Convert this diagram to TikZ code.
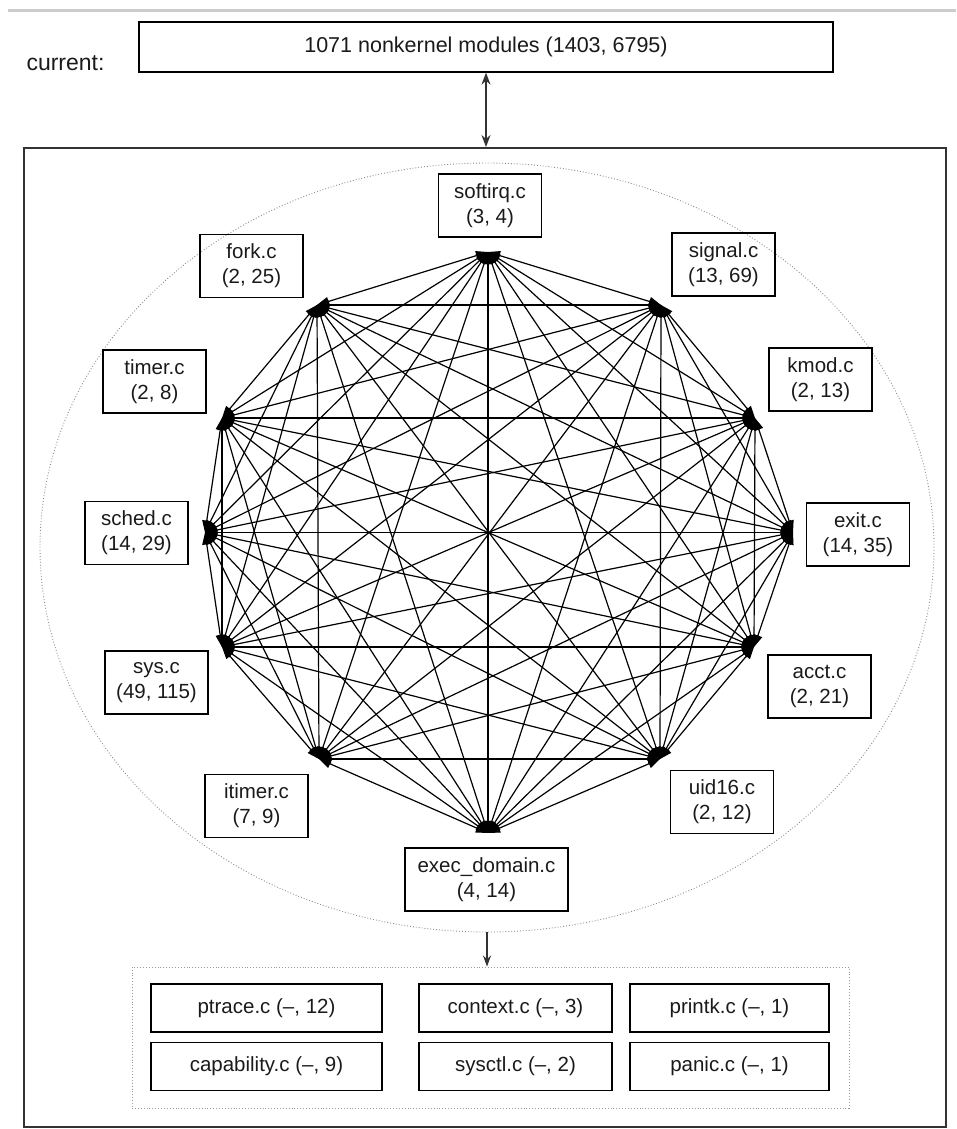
\documentclass[tikz,border=0pt]{standalone}
\usepackage{fontspec}
\setmainfont{Liberation Sans}
\usetikzlibrary{arrows.meta,shapes.geometric}
\definecolor{txt}{HTML}{1A1A1A}
\definecolor{frame}{HTML}{333333}
\begin{document}
\begin{tikzpicture}[x=1pt,y=-1pt,
  lbl/.style={draw=black, line width=1.3pt, minimum width=103pt, minimum height=63pt,
    align=center, inner sep=0pt, text=txt, font=\fontsize{20.5}{25}\selectfont},
  modbox/.style={draw=black, line width=1.3pt, minimum height=48pt, inner sep=0pt,
    text=txt, font=\fontsize{20.5}{25}\selectfont},
  kedge/.style={line width=1.2pt, black,
    {Triangle[length=12pt,width=9pt]}-{Triangle[length=12pt,width=9pt]}},
  conn/.style={line width=1.3pt, frame, -{Stealth[length=11pt,width=8pt]}}
]
\useasboundingbox (0,0) rectangle (956,1129);
% top rule
\draw[line width=3pt, black!20] (8,11) -- (956,11);

% top box and label
\node[anchor=base west, text=txt, font=\fontsize{23}{27}\selectfont] (cur) at (23,71) {current:};
\node[draw=black, line width=1.3pt, minimum width=694pt, minimum height=50pt, inner sep=0pt,
  text=txt, font=\fontsize{21.5}{26}\selectfont] (top) at (486,47) {1071 nonkernel modules (1403, 6795)};

% outer frame
\node[draw=frame, line width=2pt, minimum width=922pt, minimum height=979pt, inner sep=0pt] (outer) at (485,637.5) {};
\draw[line width=1.3pt, frame, {Stealth[length=12pt,width=9pt]}-{Stealth[length=12pt,width=9pt]}]
  (top.south) -- (top.south |- outer.north);

% dotted ellipse
\node[ellipse, draw=black!45, dotted, line width=0.9pt, minimum width=894pt, minimum height=769pt, inner sep=0pt] (cloud) at (487,547.5) {};

% graph vertices
\coordinate (v0) at (488,252);
\coordinate (v1) at (661,305);
\coordinate (v2) at (755,418);
\coordinate (v3) at (793,532.5);
\coordinate (v4) at (754,647);
\coordinate (v5) at (660,759);
\coordinate (v6) at (488,833);
\coordinate (v7) at (319,759);
\coordinate (v8) at (222,647);
\coordinate (v9) at (205,532.5);
\coordinate (v10) at (222,418);
\coordinate (v11) at (317,305);

\foreach \i in {0,...,10}{
  \pgfmathtruncatemacro\s{\i+1}
  \foreach \j in {\s,...,11}{
    \draw[kedge] (v\i) -- (v\j);
  }
}

% vertex labels
\node[lbl] (softirq) at (490,205.5) {softirq.c\\(3, 4)};
\node[lbl] (signal) at (723.5,264.5) {signal.c\\(13, 69)};
\node[lbl] (kmod) at (820.5,379.5) {kmod.c\\(2, 13)};
\node[lbl] (exit) at (858,534.5) {exit.c\\(14, 35)};
\node[lbl] (acct) at (819.5,686.5) {acct.c\\(2, 21)};
\node[lbl] (uid16) at (722,802) {uid16.c\\(2, 12)};
\node[lbl, minimum width=163pt] (exec) at (486.5,879.5) {exec\_domain.c\\(4, 14)};
\node[lbl] (itimer) at (256.5,806) {itimer.c\\(7, 9)};
\node[lbl] (sys) at (156.5,682.5) {sys.c\\(49, 115)};
\node[lbl] (sched) at (136.5,533) {sched.c\\(14, 29)};
\node[lbl] (timer) at (154.5,381.5) {timer.c\\(2, 8)};
\node[lbl] (fork) at (251.5,266) {fork.c\\(2, 25)};

% library box
\node[draw=black!40, dotted, line width=0.9pt, minimum width=717pt, minimum height=141pt, inner sep=0pt] (lib) at (490.5,1037.5) {};
\draw[conn] (cloud.south) -- (cloud.south |- lib.north);

\node[modbox, minimum width=231pt] (ptrace) at (266.5,1008) {ptrace.c (–, 12)};
\node[modbox, minimum width=231pt] (capability) at (266.5,1066.5) {capability.c (–, 9)};
\node[modbox, minimum width=193pt] (context) at (515.5,1008) {context.c (–, 3)};
\node[modbox, minimum width=193pt] (sysctl) at (515.5,1066.5) {sysctl.c (–, 2)};
\node[modbox, minimum width=199pt] (printk) at (729.5,1008) {printk.c (–, 1)};
\node[modbox, minimum width=199pt] (panic) at (729.5,1066.5) {panic.c (–, 1)};
\end{tikzpicture}
\end{document}
